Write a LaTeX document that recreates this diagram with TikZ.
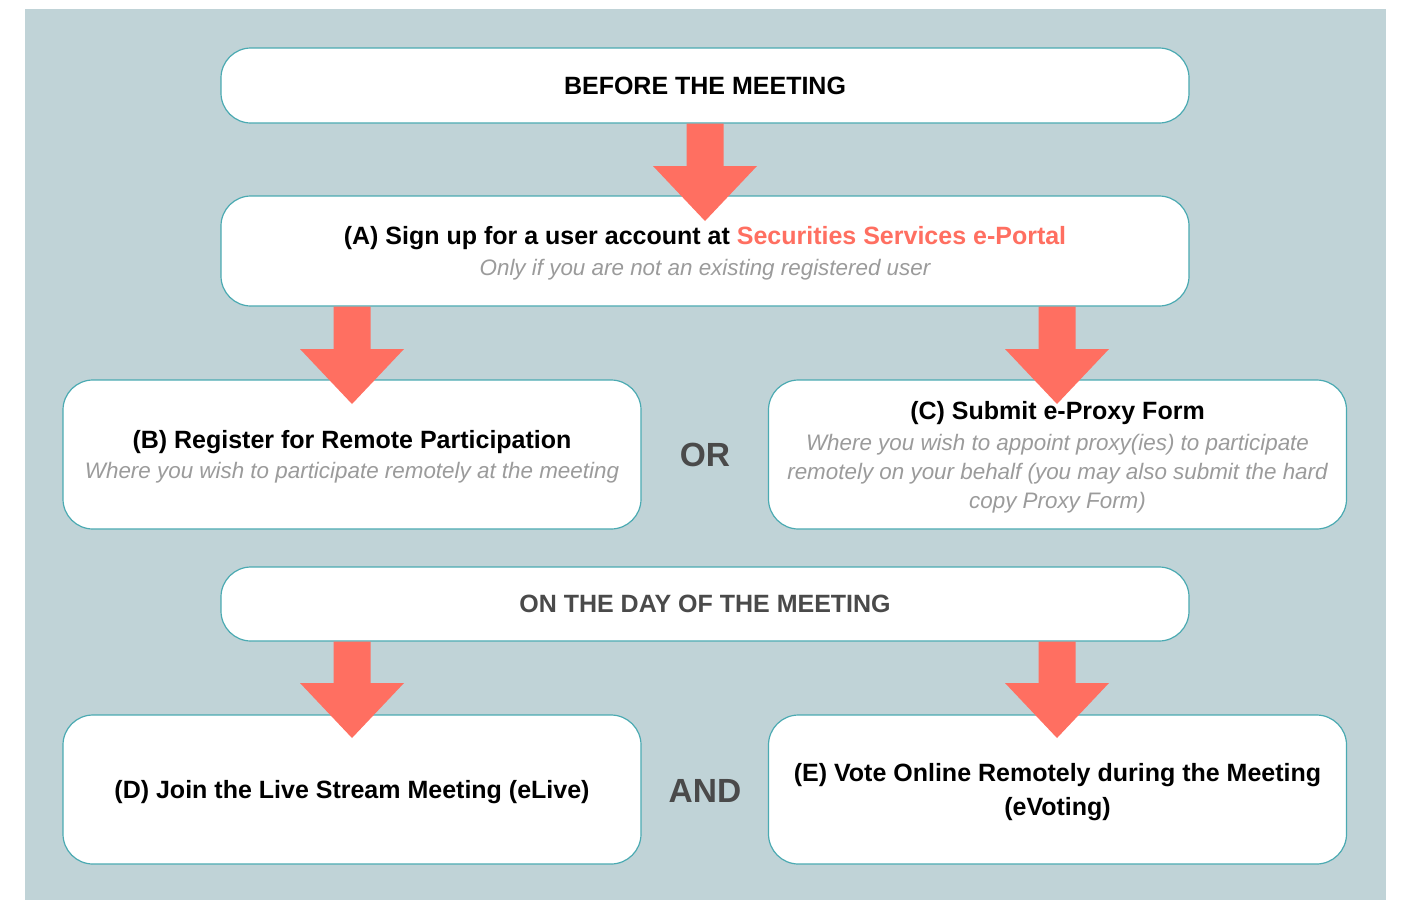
\documentclass[tikz,border=0pt]{standalone}
\usepackage{fontspec}
\setmainfont{Liberation Sans}
\usetikzlibrary{calc}
\definecolor{panelBlue}{RGB}{192,211,215}
\definecolor{borderTeal}{RGB}{75,170,178}
\definecolor{arrowCoral}{RGB}{255,111,97}
\definecolor{noteGray}{RGB}{155,155,155}
\definecolor{labelGray}{RGB}{74,74,74}
\newcommand{\steptitle}[1]{{\fontsize{25}{29}\selectfont\bfseries #1}}
\newcommand{\stepnote}[1]{{\fontsize{22.4}{29}\selectfont\itshape\color{noteGray}#1}}
% fat down arrow from #1 to its tip #2
\newcommand{\flowarrow}[2]{%
  \fill[arrowCoral] let \p1=(#1), \p2=(#2) in
    (\x1-18.5pt,\y1) -- (\x1+18.5pt,\y1) -- (\x1+18.5pt,\y2+55pt) -- (\x1+52pt,\y2+55pt)
    -- (\x2,\y2) -- (\x1-52pt,\y2+55pt) -- (\x1-18.5pt,\y2+55pt) -- cycle;}

\begin{document}
\begin{tikzpicture}[x=1pt,y=-1pt,
    stepbox/.style={draw=borderTeal,line width=1.2pt,fill=white,rounded corners=30pt,align=center,inner sep=0pt,
      text depth=0pt,font=\fontsize{22}{29}\selectfont},
    widebox/.style={stepbox,minimum width=968pt},
    halfbox/.style={stepbox,minimum width=578pt,minimum height=149pt},
    joinword/.style={font=\fontsize{33.5}{36}\selectfont\bfseries,text=labelGray}]
        \useasboundingbox (0,0) rectangle (1426,900);
        \fill[panelBlue] (25,9) rectangle (1386,900);

        \node[widebox,minimum height=75pt] (before) at (705,85.5) {\steptitle{BEFORE THE MEETING}};
        \node[widebox,minimum height=110pt] (signup) at (705,251) {\steptitle{(A) Sign up for a user account at \textcolor{arrowCoral}{Securities Services e-Portal}}\\[2pt]
          \stepnote{Only if you are not an existing registered user}};
        \node[halfbox] (register) at (352,454.5) {\steptitle{(B) Register for Remote Participation}\\[1pt]
          \stepnote{Where you wish to participate remotely at the meeting}};
        \node[halfbox] (proxy) at (1057.5,454.5) {\steptitle{(C) Submit e-Proxy Form}\\[2pt]
          \stepnote{Where you wish to appoint proxy(ies) to participate}\\ \stepnote{remotely on your behalf (you may also submit the hard}\\ \stepnote{copy Proxy Form)}};
        \node[joinword] (orword) at (705,455) {OR};

        \node[widebox,minimum height=74pt] (dayof) at (705,604) {\steptitle{\color{labelGray}ON THE DAY OF THE MEETING}};
        \node[halfbox] (elive) at (352,789.5) {\steptitle{(D) Join the Live Stream Meeting (eLive)}};
        \node[halfbox] (evote) at (1057.5,789.5) {\steptitle{(E) Vote Online Remotely during the Meeting}\\[5pt] \steptitle{(eVoting)}};
        \node[joinword] (andword) at (705,791) {AND};

        \coordinate (tipA) at (705,221);
        \coordinate (tipB) at (352,404);
        \coordinate (tipC) at (1057,404);
        \coordinate (tipD) at (352,738);
        \coordinate (tipE) at (1057,738);
        \flowarrow{before.south}{tipA}
        \flowarrow{signup.south -| tipB}{tipB}
        \flowarrow{signup.south -| tipC}{tipC}
        \flowarrow{dayof.south -| tipD}{tipD}
        \flowarrow{dayof.south -| tipE}{tipE}
      \end{tikzpicture}
\end{document}
